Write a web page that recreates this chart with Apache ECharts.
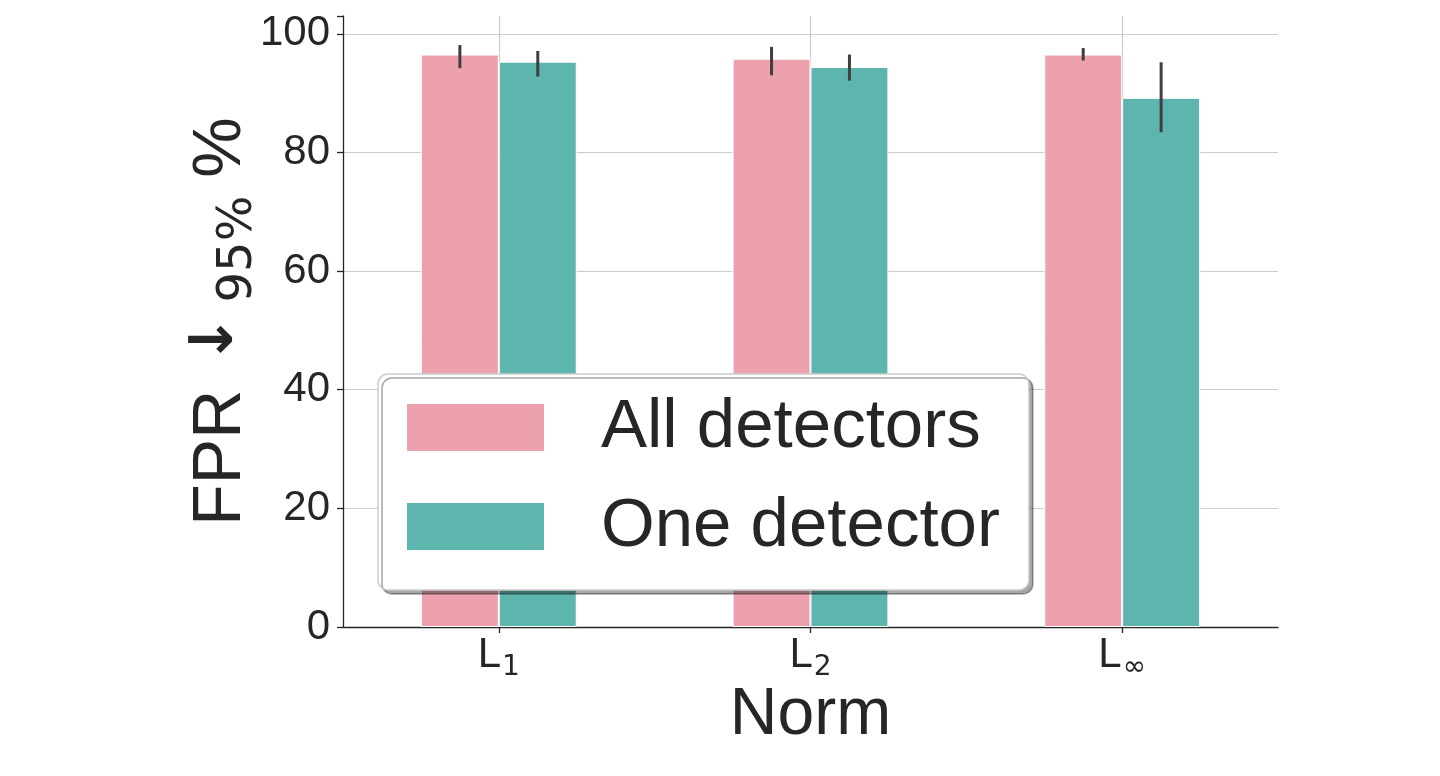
<!DOCTYPE html>
<html>
<head>
<meta charset="utf-8">
<script src="https://cdn.jsdelivr.net/npm/echarts@6/dist/echarts.min.js"></script>
<style>
html,body{margin:0;padding:0;background:#fff;}
#chart{width:1440px;height:776px;}
</style>
</head>
<body>
<div id="chart"></div>
<script>
const categories = ['L_1', 'L_2', 'L_∞'];
const seriesNames = ['All detectors', 'One detector'];
const allMean = [96.5, 95.8, 96.5];
const allLow = [94.2, 93.0, 95.5];
const allHigh = [98.1, 97.8, 97.6];
const oneMean = [95.3, 94.4, 89.2];
const oneLow = [92.8, 92.1, 83.4];
const oneHigh = [97.1, 96.5, 95.2];
const yTicks = [0, 20, 40, 60, 80, 100];

const FONT = "'Liberation Sans', Arial, sans-serif";
const MATH = "'DejaVu Sans', sans-serif";
const TXT = '#262626';
const PINK = '#eca1ac';
const TEAL = '#5eb5ae';

function errData(lo, hi) {
  return lo.map((v, i) => [i, v, hi[i]]);
}
function errSeries(lo, hi, side) {
  return {
    type: 'custom',
    z: 4,
    silent: true,
    animation: false,
    data: errData(lo, hi),
    renderItem: function (params, api) {
      const idx = api.value(0);
      const p1 = api.coord([idx, api.value(1)]);
      const p2 = api.coord([idx, api.value(2)]);
      const band = api.size([1, 0])[0];
      const dx = side * band * 0.125;
      return {
        type: 'line',
        shape: { x1: p1[0] + dx, y1: p1[1], x2: p2[0] + dx, y2: p2[1] },
        style: { stroke: '#3f3f3f', lineWidth: 3 }
      };
    }
  };
}

const chart = echarts.init(document.getElementById('chart'));
chart.setOption({
  animation: false,
  backgroundColor: '#fff',
  textStyle: { fontFamily: FONT },
  grid: { left: 343, right: 162, top: 16, bottom: 149, containLabel: false },
  legend: {
    data: seriesNames,
    orient: 'vertical',
    left: 378,
    top: 374,
    z: 20,
    icon: 'rect',
    itemWidth: 137,
    itemHeight: 47,
    itemGap: 30,
    padding: [19, 29, 29, 29],
    backgroundColor: '#ffffff',
    borderColor: '#cccccc',
    borderWidth: 1.5,
    borderRadius: 10,
    shadowColor: 'rgba(0,0,0,0.35)',
    shadowBlur: 0,
    shadowOffsetX: 4,
    shadowOffsetY: 4,
    itemStyle: { borderWidth: 0 },
    textStyle: {
      fontFamily: FONT,
      fontSize: 69,
      color: TXT,
      padding: [6, 0, 0, 52]
    }
  },
  xAxis: {
    type: 'category',
    data: categories,
    boundaryGap: true,
    axisLine: { lineStyle: { color: TXT, width: 1.3 } },
    axisTick: { show: true, alignWithLabel: true, length: 6, lineStyle: { color: TXT, width: 1.3 } },
    splitLine: { show: false },
    axisLabel: {
      margin: 5,
      formatter: function (v) {
        const parts = v.split('_');
        return '{a|' + parts[0] + '}{b|' + parts[1] + '}';
      },
      rich: {
        a: { fontFamily: FONT, fontSize: 42, color: TXT, verticalAlign: 'bottom', lineHeight: 50, padding: [0, 1, 6, 0] },
        b: { fontFamily: MATH, fontSize: 28, color: TXT, verticalAlign: 'bottom', lineHeight: 50 }
      }
    },
    name: 'Norm',
    nameLocation: 'middle',
    nameGap: 56,
    nameMoveOverlap: false,
    nameTextStyle: { fontFamily: FONT, fontSize: 66, color: TXT }
  },
  yAxis: {
    type: 'value',
    min: 0,
    max: 103,
    interval: 20,
    axisLine: { show: true, lineStyle: { color: TXT, width: 1.3 } },
    axisTick: { show: true, length: 6, lineStyle: { color: TXT, width: 1.3 } },
    splitLine: { show: false },
    axisLabel: {
      margin: 13,
      fontFamily: FONT,
      fontSize: 42,
      color: TXT,
      formatter: function (v) { return yTicks.indexOf(v) >= 0 ? String(v) : ''; }
    },
    name: '{a|FPR}{arr|↓}{b|95%}{c|%}',
    nameLocation: 'middle',
    nameRotate: 90,
    nameGap: 80,
    nameMoveOverlap: false,
    nameTextStyle: {
      rich: {
        a: { fontFamily: FONT, fontSize: 68, color: TXT, verticalAlign: 'bottom', lineHeight: 80, padding: [0, 0, 8, 0] },
        arr: { fontFamily: MATH, fontSize: 60, fontWeight: 'bold', color: TXT, verticalAlign: 'bottom', lineHeight: 80, padding: [0, 12, 17, 25] },
        b: { fontFamily: MATH, fontSize: 48, color: TXT, verticalAlign: 'bottom', lineHeight: 80 },
        c: { fontFamily: FONT, fontSize: 68, color: TXT, verticalAlign: 'bottom', lineHeight: 80, padding: [0, 0, 8, 18] }
      }
    }
  },
  series: [
    {
      name: '_grid',
      type: 'line',
      data: [],
      z: 0,
      silent: true,
      markLine: {
        z: 0,
        silent: true,
        symbol: 'none',
        animation: false,
        label: { show: false },
        lineStyle: { color: '#cccccc', width: 1.2, type: 'solid' },
        emphasis: { disabled: true },
        data: yTicks.map(v => ({ yAxis: v })).concat(categories.map(c => ({ xAxis: c })))
      }
    },
    {
      name: seriesNames[0],
      type: 'bar',
      z: 2,
      data: allMean,
      barWidth: '25%',
      barGap: '0%',
      itemStyle: { color: PINK, borderColor: '#ffffff', borderWidth: 1 }
    },
    {
      name: seriesNames[1],
      type: 'bar',
      z: 2,
      data: oneMean,
      barWidth: '25%',
      barGap: '0%',
      itemStyle: { color: TEAL, borderColor: '#ffffff', borderWidth: 1 }
    },
    errSeries(allLow, allHigh, -1),
    errSeries(oneLow, oneHigh, 1)
  ]
});
</script>
</body>
</html>
